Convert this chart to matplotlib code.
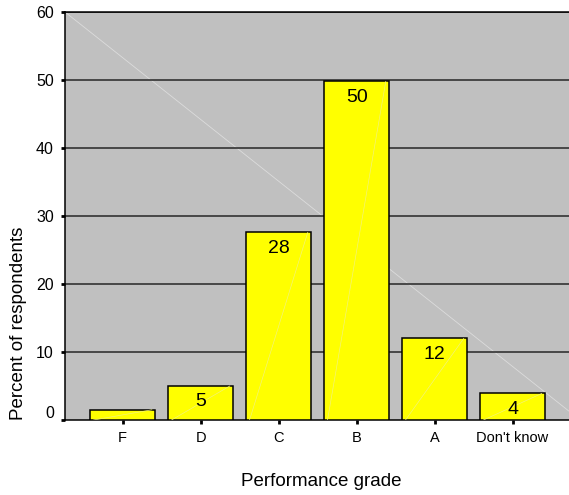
import matplotlib.pyplot as plt
from matplotlib.transforms import ScaledTranslation

plt.rcParams["font.family"] = ["Liberation Sans", "DejaVu Sans"]

grades = ["F", "D", "C", "B", "A", "Don't know"]
percents = [1.5, 5.0, 27.6, 49.8, 12.0, 3.9]
bar_labels = ["", "5", "28", "50", "12", "4"]
y_ticks = [0, 10, 20, 30, 40, 50, 60]

fig = plt.figure(figsize=(5.69, 4.95), dpi=100)
ax = fig.add_axes([65 / 569, 1 - 420 / 495, 510 / 569, 408 / 495])
ax.set_facecolor("#c0c0c0")

x = range(len(grades))
ax.set_xlim(-0.74, 5.8)
ax.set_ylim(0, 60)

# faint diagonal artefact across the plot area
ax.plot([0, 1], [1, 0.01], transform=ax.transAxes, color="#dcdcdc", lw=0.6, zorder=1)

for yv in y_ticks[1:]:
    ax.axhline(yv, color="#333333", lw=1.2, zorder=2)

bars = ax.bar(x, percents, width=0.83, color="#ffff00", edgecolor="black", lw=1.1, zorder=3)
for rect in bars:
    x0, w, h = rect.get_x(), rect.get_width(), rect.get_height()
    ax.plot([x0 + w * 0.05, x0 + w * 0.95], [0, h], color="#f2f27a", lw=0.5, zorder=4)

for rect, label in zip(bars, bar_labels):
    if label:
        ax.text(rect.get_x() + rect.get_width() / 2, rect.get_height() - 1.1, label,
                ha="center", va="top", fontsize=14, zorder=5)

ax.set_xticks(list(x))
ax.set_xticklabels(grades, fontsize=10.5)
ax.set_yticks(y_ticks)
ax.set_yticklabels([str(v) for v in y_ticks], fontsize=11.5)
ax.tick_params(axis="both", length=3, width=2, direction="out", color="black")
ax.tick_params(axis="x", pad=5)
ax.tick_params(axis="y", pad=5)

# the zero label sits a little above the axis line in the original
zero_label = ax.get_yticklabels()[0]
zero_label.set_transform(zero_label.get_transform() + ScaledTranslation(0, 8 / 100, fig.dpi_scale_trans))

ax.spines["right"].set_visible(False)
for side in ["left", "bottom", "top"]:
    ax.spines[side].set_linewidth(1.1)

fig.text(19 / 569, 1 - 323 / 495, "Percent of respondents", rotation=90,
         ha="center", va="center", fontsize=13.5)
fig.text(321 / 569, 1 - 482 / 495, "Performance grade", ha="center", va="center", fontsize=13.5)

fig.savefig("out.png", dpi=100)
